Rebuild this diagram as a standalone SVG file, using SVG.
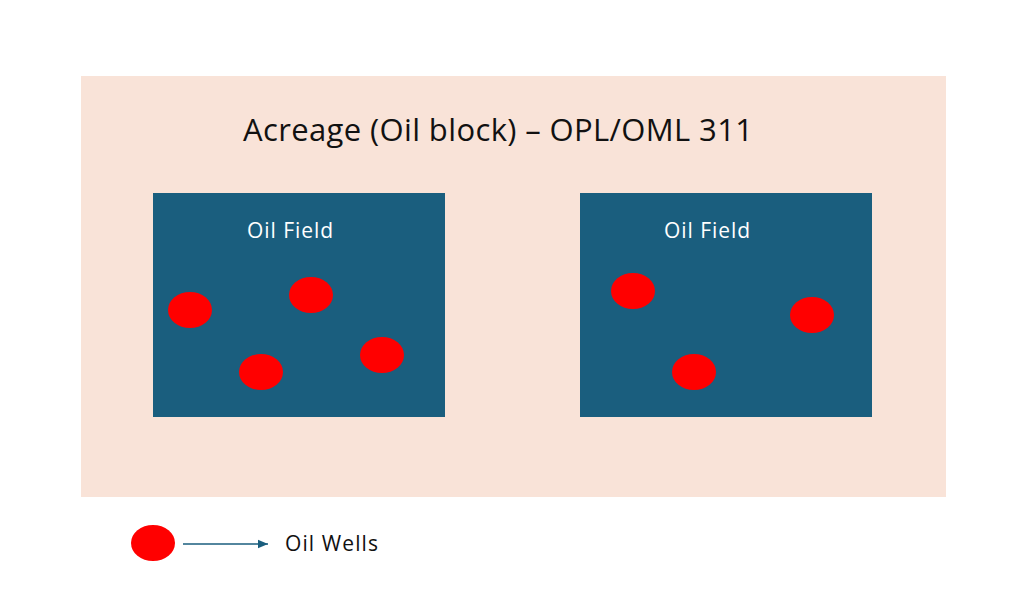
<svg xmlns="http://www.w3.org/2000/svg" width="1024" height="607" viewBox="0 0 1024 607">
<style>
.field{fill:#1a5e7e}
.well{fill:#ff0000}
.t{font-family:"Open Sans","Liberation Sans",sans-serif}
</style>
<defs><marker id="ah" markerWidth="8" markerHeight="8" refX="7" refY="4" orient="auto"><path d="M0,1 L7,4 L0,7 Z" fill="#1a5e7e"/></marker></defs>
<rect width="1024" height="607" fill="#fff"/>
<g id="acreage">
<rect x="81" y="76" width="865" height="421" fill="#f9e3d8"/>
<text class="t" x="243" y="141" font-size="31" textLength="510" fill="#111">Acreage (Oil block) – OPL/OML 311</text>
</g>
<g id="field1">
<rect class="field" x="153" y="193" width="292" height="224"/>
<text class="t" x="247" y="238" font-size="21" textLength="86" fill="#fff">Oil Field</text>
<ellipse class="well" cx="190" cy="310" rx="22" ry="18"/>
<ellipse class="well" cx="311" cy="295" rx="22" ry="18"/>
<ellipse class="well" cx="261" cy="372" rx="22" ry="18"/>
<ellipse class="well" cx="382" cy="355" rx="22" ry="18"/>
</g>
<g id="field2">
<rect class="field" x="580" y="193" width="292" height="224"/>
<text class="t" x="664" y="238" font-size="21" textLength="86" fill="#fff">Oil Field</text>
<ellipse class="well" cx="633" cy="291" rx="22" ry="18"/>
<ellipse class="well" cx="812" cy="315" rx="22" ry="18"/>
<ellipse class="well" cx="694" cy="372" rx="22" ry="18"/>
</g>
<g id="legend">
<ellipse class="well" cx="153" cy="543" rx="22" ry="18"/>
<text class="t" x="285" y="551" font-size="21" textLength="93" fill="#111">Oil Wells</text>
</g>
<g id="connectors">
<line x1="183" y1="544" x2="268" y2="544" stroke="#1a5e7e" stroke-width="1.5" marker-end="url(#ah)"/>
</g>
</svg>
